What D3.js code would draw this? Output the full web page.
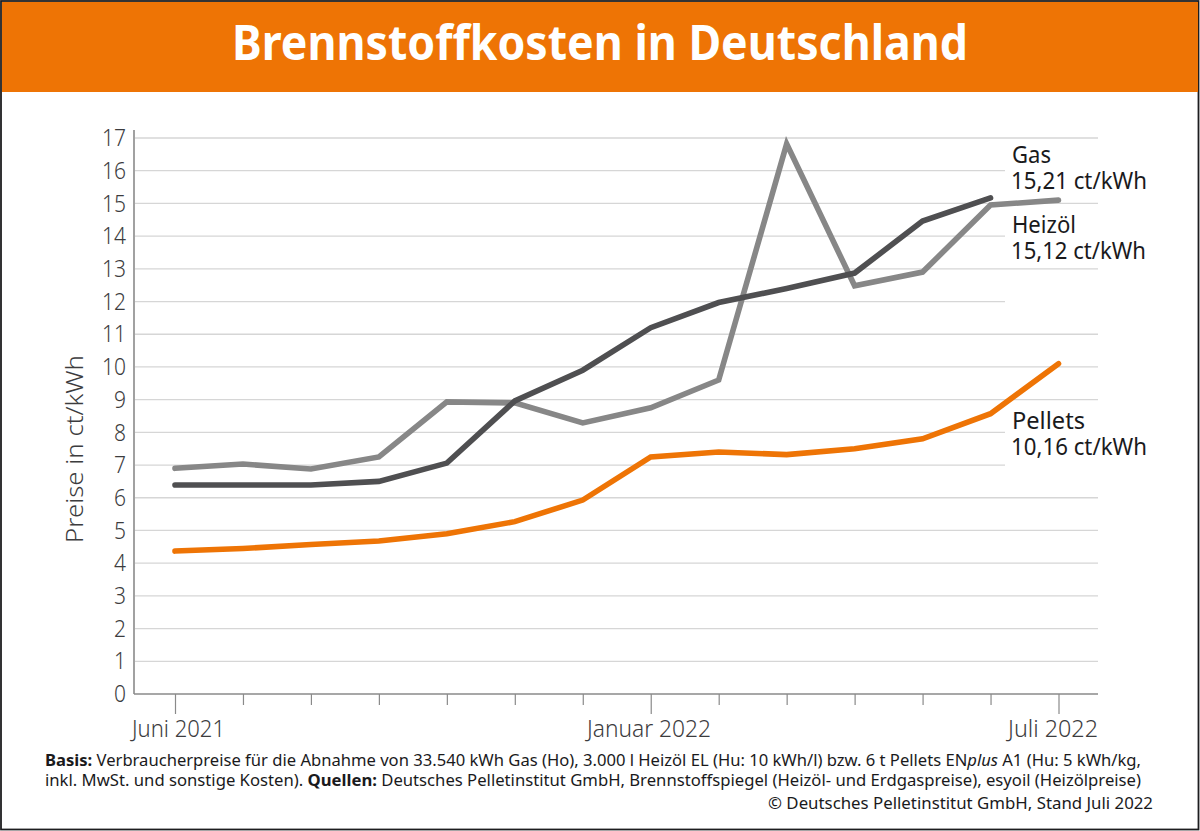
<!DOCTYPE html>
<html>
<head>
<meta charset="utf-8">
<script src="https://cdn.jsdelivr.net/npm/d3@7"></script>
<style>
  html, body { margin: 0; padding: 0; background: #fff; }
  svg { display: block; }
  text { font-family: "Noto Sans", "Open Sans", sans-serif; }
</style>
</head>
<body>
<svg id="chart" width="1200" height="831"></svg>
<script>
const months = d3.range(0, 14);
const gas = [6.39, 6.39, 6.39, 6.5, 7.06, 8.96, 9.9, 11.2, 11.97, 12.4, 12.87, 14.46, 15.17];
const heizoel = [6.9, 7.03, 6.88, 7.25, 8.93, 8.9, 8.29, 8.75, 9.6, 16.82, 12.48, 12.9, 14.95, 15.1];
const pellets = [4.37, 4.45, 4.57, 4.68, 4.9, 5.27, 5.93, 7.25, 7.4, 7.32, 7.5, 7.8, 8.57, 10.1];
const yTicks = d3.range(0, 18);
const shortGrid = [7, 8, 12, 14, 16]; // these stop before the labels on the right
const xLabels = [
  {i: 0, label: "Juni 2021", x: 132, w: 93},
  {i: 7, label: "Januar 2022", x: 587, w: 124},
  {i: 13, label: "Juli 2022", x: 1008, w: 90}
];

const orange = "#ee7405", dark = "#4f4f51", mid = "#878787", ink = "#3c3c3e", black = "#1a1a1c";

const svg = d3.select("#chart");
const x = d3.scaleLinear().domain([0, 13]).range([175, 1058.5]);
const y = d3.scaleLinear().domain([0, 17]).range([694, 138]);

// frame + header
svg.append("rect").attr("x", 1).attr("y", 1).attr("width", 1197.5).attr("height", 828.5)
  .attr("fill", "#fff").attr("stroke", "#1d1d1f").attr("stroke-width", 1.8);
svg.append("rect").attr("x", 2).attr("y", 2).attr("width", 1196).attr("height", 90).attr("fill", orange);
svg.append("text").attr("x", 232).attr("y", 60)
  .attr("textLength", 736).attr("lengthAdjust", "spacingAndGlyphs")
  .attr("font-size", 49).attr("font-weight", 700).attr("fill", "#fff")
  .text("Brennstoffkosten in Deutschland");

// gridlines
svg.append("g").selectAll("line").data(yTicks.filter(d => d > 0)).join("line")
  .attr("x1", 135).attr("x2", d => shortGrid.includes(d) ? 1005 : 1098)
  .attr("y1", d => y(d)).attr("y2", d => y(d))
  .attr("stroke", "#d6d6d6").attr("stroke-width", 1.3);

// axes
const yAxis = svg.append("g").attr("transform", "translate(134,0)")
  .call(d3.axisLeft(y).tickValues(yTicks).tickSize(0).tickPadding(8));
yAxis.select(".domain").attr("d", "M0,130V694").attr("stroke", "#8a8a8a").attr("stroke-width", 1.6);
yAxis.selectAll("text").attr("font-size", 24).attr("fill", ink)
  .attr("font-family", "Noto Sans").attr("font-weight", 300)
  .attr("textLength", d => d > 9 ? 24 : 12).attr("lengthAdjust", "spacingAndGlyphs");

const xAxis = svg.append("g").attr("transform", "translate(0,694)")
  .call(d3.axisBottom(x).tickValues(months).tickSize(11).tickFormat(""));
xAxis.select(".domain").attr("d", "M134,0H1098").attr("stroke", "#8a8a8a").attr("stroke-width", 1.4);
xAxis.selectAll(".tick line").attr("stroke", "#8a8a8a").attr("stroke-width", 1.2)
  .attr("y2", d => xLabels.some(l => l.i === d) ? 20 : 11);

svg.append("g").selectAll("text").data(xLabels).join("text")
  .attr("x", d => d.x).attr("y", 737)
  .attr("textLength", d => d.w).attr("lengthAdjust", "spacingAndGlyphs")
  .attr("font-size", 24).attr("font-weight", 300).attr("fill", ink)
  .text(d => d.label);

svg.append("text").attr("transform", "translate(83,449) rotate(-90)")
  .attr("text-anchor", "middle").attr("textLength", 188).attr("lengthAdjust", "spacingAndGlyphs")
  .attr("font-size", 24).attr("font-weight", 300).attr("fill", ink)
  .text("Preise in ct/kWh");

// series
const line = d3.line().x((d, i) => x(i)).y(d => y(d));
[[heizoel, mid], [gas, dark], [pellets, orange]].forEach(([values, color]) => {
  svg.append("path").attr("d", line(values)).attr("fill", "none")
    .attr("stroke", color).attr("stroke-width", 5.6)
    .attr("stroke-linecap", "round").attr("stroke-linejoin", "miter");
});

// direct labels
const endLabels = [
  {text: "Gas", x: 1012, y: 163, w: 39},
  {text: "15,21 ct/kWh", x: 1011, y: 189, w: 136},
  {text: "Heizöl", x: 1012, y: 233, w: 64},
  {text: "15,12 ct/kWh", x: 1011, y: 259, w: 135},
  {text: "Pellets", x: 1012, y: 429, w: 73},
  {text: "10,16 ct/kWh", x: 1011, y: 455, w: 136}
];
svg.append("g").selectAll("text").data(endLabels).join("text")
  .attr("x", d => d.x).attr("y", d => d.y)
  .attr("textLength", d => d.w).attr("lengthAdjust", "spacingAndGlyphs")
  .attr("font-size", 24).attr("fill", black)
  .text(d => d.text);

// footnote
const note1 = svg.append("text").attr("x", 45).attr("y", 766)
  .attr("textLength", 1096).attr("lengthAdjust", "spacingAndGlyphs")
  .attr("font-size", 16).attr("fill", black);
note1.append("tspan").attr("font-weight", 700).text("Basis:");
note1.append("tspan").text(" Verbraucherpreise für die Abnahme von 33.540 kWh Gas (Ho), 3.000 l Heizöl EL (Hu: 10 kWh/l) bzw. 6 t Pellets EN");
note1.append("tspan").attr("font-style", "italic").text("plus");
note1.append("tspan").text(" A1 (Hu: 5 kWh/kg,");

const note2 = svg.append("text").attr("x", 45).attr("y", 786)
  .attr("textLength", 1096).attr("lengthAdjust", "spacingAndGlyphs")
  .attr("font-size", 16).attr("fill", black);
note2.append("tspan").text("inkl. MwSt. und sonstige Kosten). ");
note2.append("tspan").attr("font-weight", 700).text("Quellen:");
note2.append("tspan").text(" Deutsches Pelletinstitut GmbH, Brennstoffspiegel (Heizöl- und Erdgaspreise), esyoil (Heizölpreise)");

svg.append("text").attr("x", 768).attr("y", 809)
  .attr("textLength", 385).attr("lengthAdjust", "spacingAndGlyphs")
  .attr("font-size", 16).attr("fill", black)
  .text("© Deutsches Pelletinstitut GmbH, Stand Juli 2022");
</script>
</body>
</html>
